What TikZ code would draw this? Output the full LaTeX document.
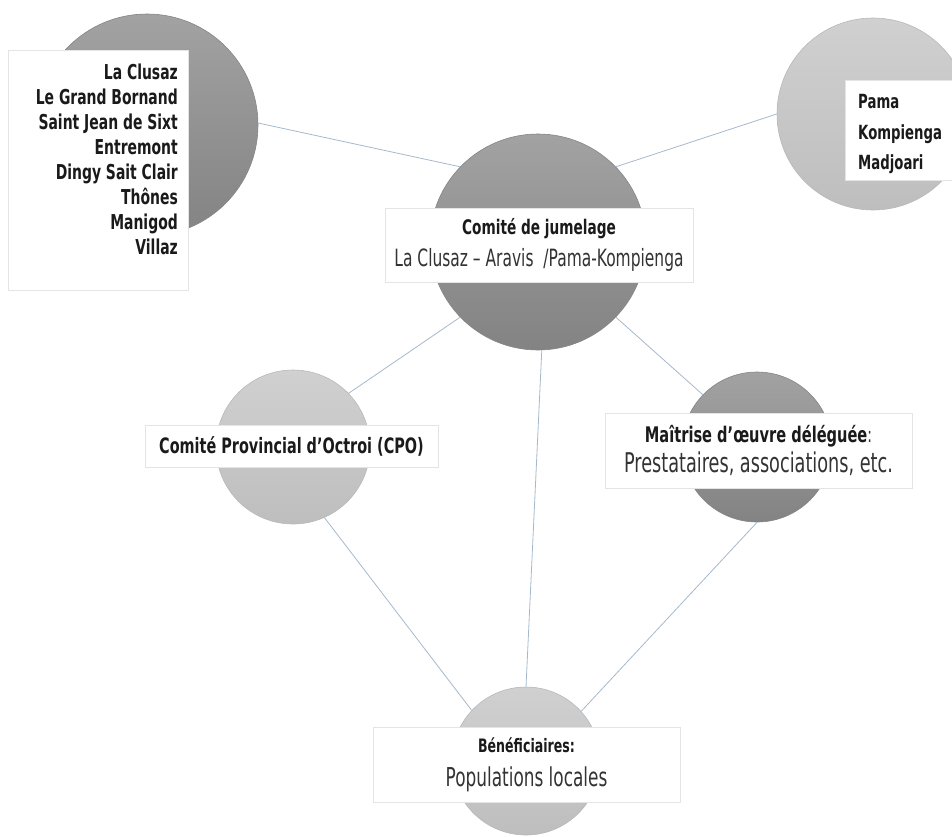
\documentclass[tikz,border=0pt]{standalone}
\usepackage{fontspec}
\newfontfamily\ag[FakeStretch=0.65]{DejaVu Sans}
\newfontfamily\agb[FakeStretch=0.68]{DejaVu Sans Bold}
\definecolor{linkc}{HTML}{A5B8CC}
\definecolor{darktop}{HTML}{A2A2A2}
\definecolor{darkbot}{HTML}{838383}
\definecolor{darkedge}{HTML}{858585}
\definecolor{lighttop}{HTML}{D0D0D0}
\definecolor{lightbot}{HTML}{BEBEBE}
\definecolor{lightedge}{HTML}{B8B8B8}
\definecolor{boxedge}{HTML}{E4E4E4}
\definecolor{txt}{HTML}{1A1A1A}
\definecolor{txtr}{HTML}{333333}
\tikzset{
  darkball/.style={circle, inner sep=0pt, top color=darktop, bottom color=darkbot, draw=darkedge, line width=0.6pt},
  lightball/.style={circle, inner sep=0pt, top color=lighttop, bottom color=lightbot, draw=lightedge, line width=0.6pt},
  labelbox/.style={rectangle, fill=white, draw=boxedge, line width=0.5pt, inner sep=0pt, align=center, text=txt},
  link/.style={draw=linkc, line width=0.8pt},
}
\begin{document}
\begin{tikzpicture}[x=1pt,y=-1pt]
\useasboundingbox (0,0) rectangle (952,836);
\clip (0,0) rectangle (952,836);
% circles
\node[darkball, minimum size=222pt] (tl) at (147,125) {};
\node[lightball, minimum size=192pt] (tr) at (873,114) {};
\node[darkball, minimum size=216pt] (c) at (538,242) {};
\node[lightball, minimum size=154pt] (lm) at (293,447) {};
\node[darkball, minimum size=150pt] (rm) at (757,447) {};
\node[lightball, minimum size=148pt] (bt) at (526,761) {};
% connectors
\draw[link] (tl.1) -- (c.136);
\draw[link] (c.44) -- (tr.180);
\draw[link] (c.224) -- (lm.44);
\draw[link] (c.272) -- (bt.90);
\draw[link] (c.316) -- (rm.136);
\draw[link] (lm.294) -- (bt.137);
\draw[link] (rm.270) -- (bt.42);
% boxes
\node[labelbox, minimum width=180pt, minimum height=240pt] (tlbox) at (98,170) {};
\node[anchor=north east, inner sep=0pt, align=right, text=txt,
      font=\agb\fontsize{20.5}{25.1}\selectfont] (tltext) at (178,63.5)
  {La Clusaz\\Le Grand Bornand\\Saint Jean de Sixt\\Entremont\\Dingy Sait Clair\\Thônes\\Manigod\\Villaz};
\node[labelbox, minimum width=115pt, minimum height=100pt] (trbox) at (902.5,130) {};
\node[anchor=north west, inner sep=0pt, align=left, text=txt,
      font=\agb\fontsize{19.5}{30.5}\selectfont] (trtext) at (858,94.5)
  {Pama\\Kompienga\\Madjoari};
\node[labelbox, minimum width=308pt, minimum height=74pt,
      font=\ag\fontsize{23.8}{32}\selectfont] (cbox) at (539,245)
  {{\agb\fontsize{20.1}{32}\selectfont Comité de jumelage}\\{\color{txtr}La Clusaz – Aravis \ /Pama-Kompienga}};
\node[labelbox, minimum width=293pt, minimum height=42pt,
      font=\agb\fontsize{21.2}{24}\selectfont] (lmbox) at (291.5,446)
  {Comité Provincial d’Octroi (CPO)};
\node[labelbox, minimum width=307pt, minimum height=75pt,
      font=\ag\fontsize{27.2}{30}\selectfont] (rmbox) at (758.5,450.5)
  {{\agb\fontsize{21.5}{30}\selectfont Maîtrise d’œuvre déléguée}{\color{txtr}\fontsize{21.5}{30}\selectfont:}\\{\color{txtr}Prestataires, associations, etc.}};
\node[labelbox, minimum width=307pt, minimum height=75pt,
      font=\ag\fontsize{26}{34}\selectfont] (btbox) at (526.5,764.5)
  {{\agb\fontsize{18.5}{34}\selectfont Bénéficiaires:}\\{\color{txtr}Populations locales}};
\end{tikzpicture}
\end{document}
